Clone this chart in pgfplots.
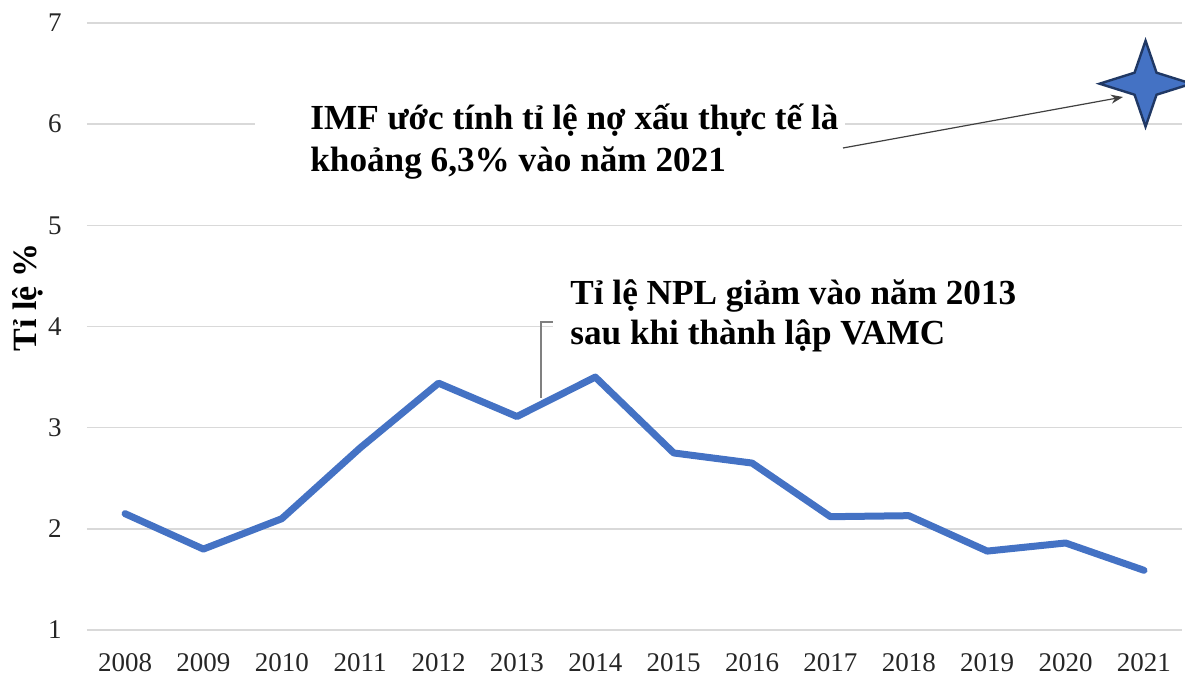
\documentclass[border=0pt]{standalone}
\usepackage{fontspec}
\setmainfont{Liberation Serif}
\usepackage{pgfplots}
\pgfplotsset{compat=1.18}
\usetikzlibrary{arrows.meta}
\definecolor{lineblue}{HTML}{4472C4}
\definecolor{starline}{HTML}{203864}
\definecolor{gridgray}{HTML}{D9D9D9}
\definecolor{ticktext}{HTML}{262626}
\pgfdeclareplotmark{star4}{%
  \pgfpathmoveto{\pgfqpoint{0pt}{21.5pt}}%
  \pgfpathlineto{\pgfqpoint{5.5pt}{5.5pt}}%
  \pgfpathlineto{\pgfqpoint{23pt}{0pt}}%
  \pgfpathlineto{\pgfqpoint{5.5pt}{-5.5pt}}%
  \pgfpathlineto{\pgfqpoint{0pt}{-21.5pt}}%
  \pgfpathlineto{\pgfqpoint{-5.5pt}{-5.5pt}}%
  \pgfpathlineto{\pgfqpoint{-23pt}{0pt}}%
  \pgfpathlineto{\pgfqpoint{-5.5pt}{5.5pt}}%
  \pgfpathclose
  \pgfusepathqfillstroke}
\begin{document}
\begin{tikzpicture}
\useasboundingbox (-43.5pt,-22.5pt) rectangle (549pt,315pt);
\begin{axis}[
  scale only axis,
  width=547.5pt, height=303.5pt,
  xmin=2007.515, xmax=2021.485,
  ymin=1, ymax=7,
  xtick={2008,2009,...,2021},
  ytick={1,2,...,7},
  axis line style={draw=none},
  major tick length=0pt,
  tick style={draw=none},
  ymajorgrids=true,
  grid style={gridgray, line width=0.75pt},
  clip=false,
  /pgf/number format/assume math mode=true,
  /pgf/number format/1000 sep={},
  ticklabel style={font=\fontsize{13.5}{15}\selectfont, text=ticktext, inner sep=0pt},
  xticklabel style={anchor=north, yshift=-11.5pt},
  yticklabel style={anchor=east, xshift=-12.5pt},
]
\addplot[lineblue, line width=3.5pt, line join=round, line cap=round] coordinates {
  (2008,2.15) (2009,1.80) (2010,2.10) (2011,2.80) (2012,3.44) (2013,3.11)
  (2014,3.50) (2015,2.75) (2016,2.65) (2017,2.12) (2018,2.13) (2019,1.78)
  (2020,1.86) (2021,1.59)
};
\addplot[only marks, mark=star4, mark options={fill=lineblue, draw=starline, line width=1.2pt}] coordinates {
  (2021.02,6.40)
};
\end{axis}
% white boxes behind annotations
\fill[white] (84pt,225pt) rectangle (379pt,267.5pt);
\fill[white] (233pt,137.5pt) rectangle (547.6pt,170pt);
% callout line
\draw[gray, line width=0.7pt] (227pt,116pt) -- (227pt,154pt) -- (233pt,154pt);
% annotations
\node[anchor=base west, inner sep=0pt, font=\fontsize{17.6}{20}\selectfont\bfseries] at (111.5pt,250pt) {IMF ước tính tỉ lệ nợ xấu thực tế là};
\node[anchor=base west, inner sep=0pt, font=\fontsize{17.6}{20}\selectfont\bfseries] at (111.5pt,229pt) {khoảng 6,3\% vào năm 2021};
\node[anchor=base west, inner sep=0pt, font=\fontsize{17.6}{20}\selectfont\bfseries] at (241.5pt,162.5pt) {Tỉ lệ NPL giảm vào năm 2013};
\node[anchor=base west, inner sep=0pt, font=\fontsize{17.6}{20}\selectfont\bfseries] at (241.5pt,142.5pt) {sau khi thành lập VAMC};
\draw[-{Stealth[length=6pt,width=4.5pt]}, black!75, line width=0.6pt] (378pt,241pt) -- (518pt,266.5pt);
% y label
\node[rotate=90, anchor=base, inner sep=0pt, font=\fontsize{17}{20}\selectfont\bfseries] at (-25pt,166.25pt) {Tỉ lệ \%};
\end{tikzpicture}
\end{document}
